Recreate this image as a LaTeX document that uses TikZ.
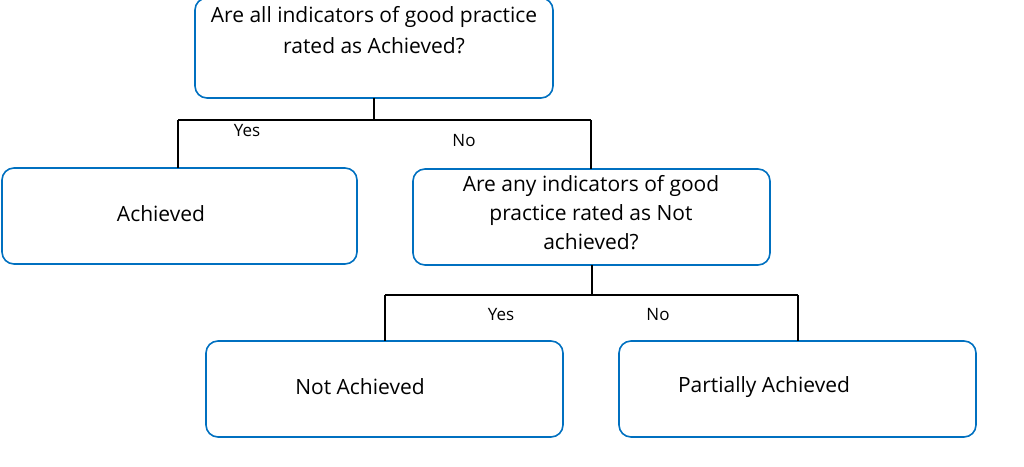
\documentclass[tikz,border=0pt]{standalone}
\usepackage{fontspec}
\setmainfont{Open Sans}
\begin{document}
\begin{tikzpicture}[x=1pt,y=-1pt,
  bx/.style={draw={rgb,255:red,0;green,112;blue,192},line width=1.6pt,rounded corners=12pt,inner sep=0pt},
  ln/.style={draw=black,line width=1.4pt},
  lbl/.style={font=\fontsize{17}{20}\selectfont},
  txt/.style={font=\fontsize{21}{29}\selectfont,align=center}]
\useasboundingbox (0,0) rectangle (1024,466);
\draw[bx] (195,-2) rectangle (553,98);
\node[txt,font=\fontsize{21}{31}\selectfont] (t) at (374,30) {Are all indicators of good practice\\rated as Achieved?};
\draw[bx] (2,168) rectangle (357,264);
\node[txt] (a) at (161,214) {Achieved};
\draw[bx] (413,169) rectangle (770,265);
\node[txt] (q) at (591,213) {Are any indicators of good\\practice rated as Not\\achieved?};
\draw[bx] (206,341) rectangle (563,437);
\node[txt] (n) at (360,387) {Not Achieved};
\draw[bx] (619,341) rectangle (976,437);
\node[txt] (p) at (764,387) {Partially Achieved};
\coordinate (t0) at (374,98);
\coordinate (tj) at (374,120);
\coordinate (al) at (178,120);
\coordinate (ar) at (591,120);
\coordinate (ab) at (178,168);
\coordinate (qb) at (591,169);
\draw[ln] (t0) -- (tj) (al) -- (ar) (al) -- (ab) (ar) -- (qb);
\coordinate (q0) at (592,265);
\coordinate (qj) at (592,295);
\coordinate (bl) at (385,295);
\coordinate (br) at (798,295);
\coordinate (nb) at (385,341);
\coordinate (pb) at (798,341);
\draw[ln] (q0) -- (qj) (bl) -- (br) (bl) -- (nb) (br) -- (pb);
\node[lbl] (y1) at (247,131) {Yes};
\node[lbl] (n1) at (464,141) {No};
\node[lbl] (y2) at (501,315) {Yes};
\node[lbl] (n2) at (658,315) {No};
\end{tikzpicture}
\end{document}
